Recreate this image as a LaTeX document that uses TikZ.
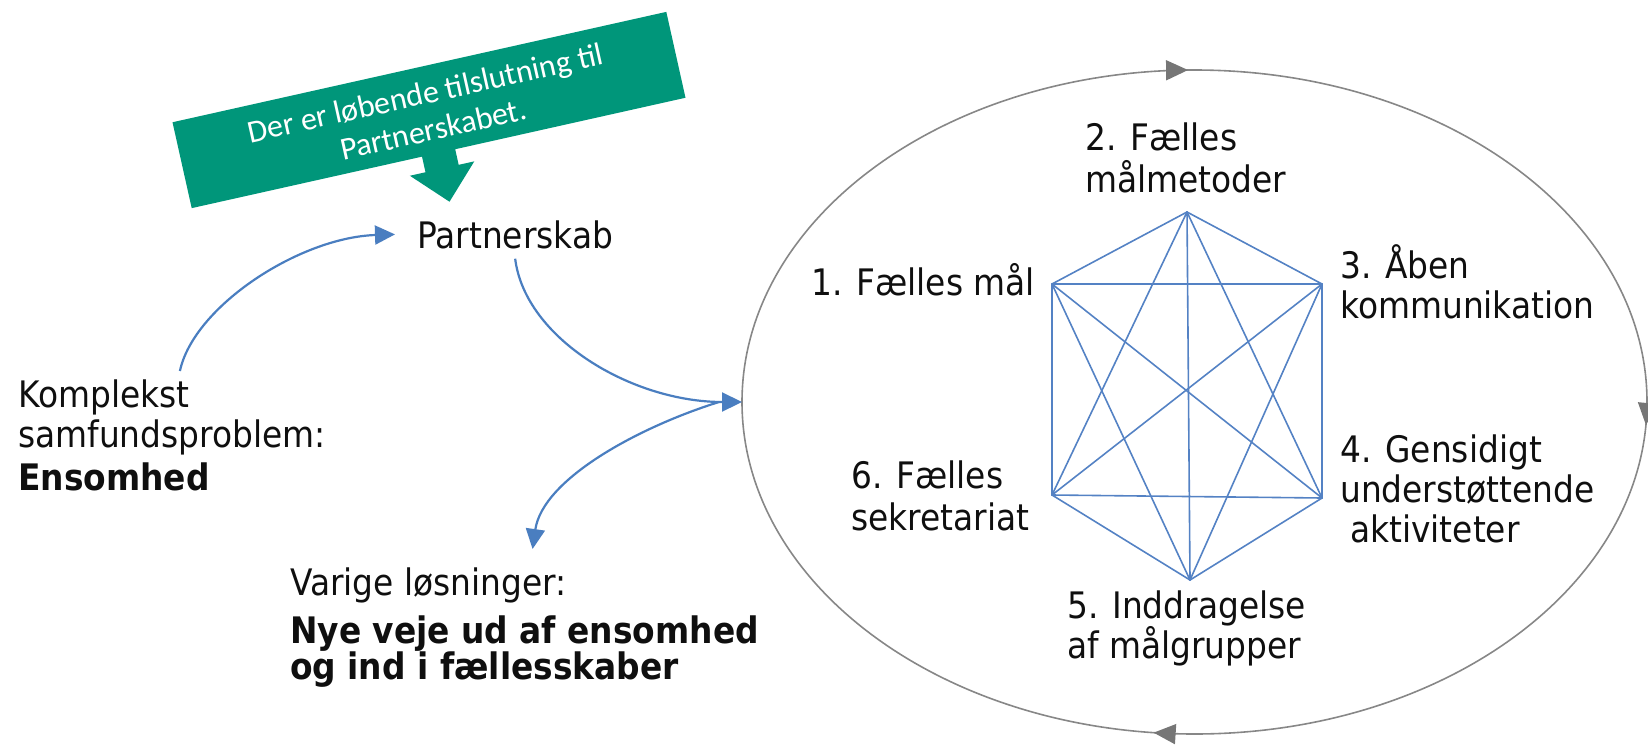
\documentclass[tikz,border=0pt]{standalone}
\usepackage{fontspec}
\setmainfont{DejaVu Sans}[FakeStretch=0.9]
\newfontfamily\bannerfont{Carlito}
\usetikzlibrary{arrows.meta,decorations.markings}
\definecolor{bannergreen}{RGB}{0,150,122}
\definecolor{arrowblue}{RGB}{74,126,192}
\definecolor{hexblue}{RGB}{84,130,196}
\definecolor{ringgray}{RGB}{135,135,135}
\definecolor{tipgray}{RGB}{118,118,118}
\definecolor{txt}{RGB}{15,15,15}
\newcommand\lblsize{\fontsize{36.5pt}{40pt}\selectfont}
\newcommand\tstrut{\rule{0pt}{36pt}}
\begin{document}
\begin{tikzpicture}[x=1pt,y=-1pt,
  lbl/.style={font=\lblsize, text=txt, inner sep=0pt},
  mlbl/.style={lbl, anchor=north west, align=left},
  flow/.style={draw=arrowblue, line width=2.2pt, -{Triangle[length=20pt,width=19pt]}},
  hexedge/.style={draw=hexblue, line width=1.6pt, line cap=round},
  ring/.style={draw=ringgray, line width=1.6pt}]
\useasboundingbox (0,0) rectangle (1648,747);

% banner callout
\begin{scope}[shift={(429,110)}, rotate=12.6]
  \fill[bannergreen] (-253,-44) -- (253,-44) -- (253,44) -- (17,44) -- (17,60)
    -- (33,60) -- (0,94) -- (-33,60) -- (-17,60) -- (-17,44) -- (-253,44) -- cycle;
  \node[transform shape, text=white, align=center, inner sep=0pt,
        font=\bannerfont\fontsize{32pt}{37pt}\selectfont] (banner) at (0,1)
        {Der er løbende tilslutning til\\Partnerskabet.};
\end{scope}

% text nodes
\node[lbl, anchor=base west] (partner) at (417,248) {Partnerskab};
\node[mlbl] (komplekst) at (18,371) {\tstrut Komplekst\\samfundsproblem:\\[3pt]\textbf{Ensomhed}};
\node[mlbl] (varige) at (290,559) {\tstrut Varige løsninger:\\[8pt]\textbf{Nye veje ud af ensomhed}\\[-4pt]\textbf{og ind i fællesskaber}};

\node[lbl, anchor=base west] (l1) at (811,295) {1. Fælles mål};
\node[mlbl] (l2) at (1085,114) {\tstrut 2. Fælles\\[2pt]målmetoder};
\node[mlbl] (l3) at (1340,242) {\tstrut 3. Åben\\kommunikation};
\node[mlbl] (l4) at (1340,426) {\tstrut 4. Gensidigt\\understøttende\\\hspace*{10pt}aktiviteter};
\node[mlbl] (l5) at (1067,582) {\tstrut 5. Inddragelse\\af målgrupper};
\node[mlbl] (l6) at (851,452) {\tstrut 6. Fælles\\[2pt]sekretariat};

% hexagon (complete graph)
\coordinate (h1) at (1052,284);
\coordinate (h2) at (1187,212);
\coordinate (h3) at (1322,284);
\coordinate (h4) at (1322,498);
\coordinate (h5) at (1190,580);
\coordinate (h6) at (1052,495);
\foreach \a/\b in {h1/h2,h1/h3,h1/h4,h1/h5,h1/h6,h2/h3,h2/h4,h2/h5,h2/h6,h3/h4,h3/h5,h3/h6,h4/h5,h4/h6,h5/h6}
  \draw[hexedge] (\a) -- (\b);

% cycle ring
\coordinate (cyc) at (1194.5,402);
\draw[ring, postaction={decorate}, decoration={markings,
    mark=at position 0.2526 with {\arrowreversed{Triangle[length=22pt,width=20pt,color=tipgray]}},
    mark=at position 0.7335 with {\arrowreversed{Triangle[length=22pt,width=20pt,color=tipgray]}},
    mark=at position 0.9907 with {\arrowreversed{Triangle[length=22pt,width=20pt,color=tipgray]}}}]
  (cyc) ellipse [x radius=452.5pt, y radius=332pt];
\coordinate (cycW) at ([xshift=-452.5pt]cyc);

% flow arrows
\draw[flow] ([shift={(8,0)}]komplekst.north) .. controls +(14,-65) and +(-95,3) .. ([xshift=-22pt]partner.west);
\draw[flow] ([yshift=-10pt]partner.south) .. controls +(10,80) and +(-110,0) .. (cycW);
\draw[flow] ([xshift=-23pt]cycW) .. controls +(-80,25) and +(10,-70) .. ([shift={(8,-10)}]varige.north);
\end{tikzpicture}
\end{document}
